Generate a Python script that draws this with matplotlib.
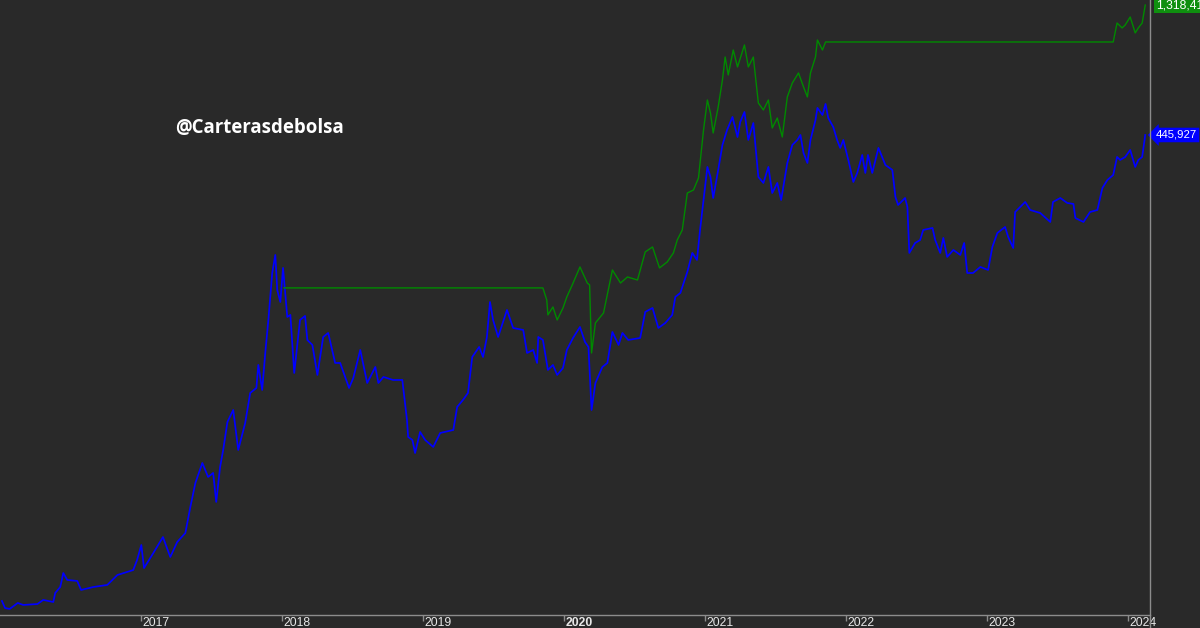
import matplotlib
matplotlib.use('Agg')
import matplotlib.pyplot as plt
import pandas as pd
from matplotlib.lines import Line2D
from matplotlib.ticker import NullLocator

plt.rcParams['font.family'] = ['Liberation Sans', 'DejaVu Sans']

# serie azul (precio)
blue_dates = [
    '2016-01-06', '2016-01-14', '2016-01-26', '2016-02-16', '2016-03-01', '2016-04-07', '2016-04-22',
    '2016-05-18', '2016-05-23', '2016-06-05', '2016-06-13', '2016-06-23', '2016-07-19', '2016-07-29',
    '2016-08-30', '2016-10-05', '2016-10-31', '2016-12-11', '2016-12-21', '2017-01-01', '2017-01-08',
    '2017-02-01', '2017-02-26', '2017-03-17', '2017-04-04', '2017-04-25', '2017-05-08', '2017-05-21',
    '2017-06-08', '2017-06-23', '2017-07-06', '2017-07-14', '2017-07-24', '2017-08-01', '2017-08-12',
    '2017-08-27', '2017-09-09', '2017-09-27', '2017-10-10', '2017-10-26', '2017-10-31', '2017-11-10',
    '2017-11-18', '2017-11-26', '2017-12-06', '2017-12-14', '2017-12-19', '2017-12-27', '2018-01-03',
    '2018-01-14', '2018-01-22', '2018-02-01', '2018-02-16', '2018-03-01', '2018-03-07', '2018-03-20',
    '2018-04-02', '2018-04-17', '2018-04-30', '2018-05-18', '2018-05-31', '2018-06-13', '2018-06-23',
    '2018-07-04', '2018-07-22', '2018-08-09', '2018-08-30', '2018-09-07', '2018-09-20', '2018-10-15',
    '2018-11-08', '2018-11-10', '2018-11-20', '2018-11-23', '2018-12-04', '2018-12-11', '2018-12-24',
    '2019-01-06', '2019-01-27', '2019-02-14', '2019-03-20', '2019-03-30', '2019-04-14', '2019-04-27',
    '2019-05-08', '2019-05-26', '2019-06-05', '2019-06-15', '2019-06-23', '2019-07-01', '2019-07-14',
    '2019-08-06', '2019-08-22', '2019-09-17', '2019-09-27', '2019-10-13', '2019-10-23', '2019-10-26',
    '2019-11-07', '2019-11-20', '2019-12-03', '2019-12-14', '2019-12-29', '2020-01-08', '2020-01-24',
    '2020-02-11', '2020-02-24', '2020-03-04', '2020-03-12', '2020-03-22', '2020-04-09', '2020-04-22',
    '2020-05-05', '2020-05-21', '2020-05-31', '2020-06-15', '2020-07-16', '2020-07-29', '2020-08-17',
    '2020-09-01', '2020-09-19', '2020-10-07', '2020-10-15', '2020-10-28', '2020-11-15', '2020-11-28',
    '2020-12-10', '2020-12-18', '2021-01-06', '2021-01-14', '2021-01-21', '2021-02-03', '2021-02-14',
    '2021-02-26', '2021-03-12', '2021-03-25', '2021-04-01', '2021-04-12', '2021-04-22', '2021-05-05',
    '2021-05-18', '2021-05-31', '2021-06-13', '2021-06-23', '2021-07-06', '2021-07-16', '2021-08-01',
    '2021-08-14', '2021-08-27', '2021-09-04', '2021-09-12', '2021-09-22', '2021-09-30', '2021-10-13',
    '2021-10-18', '2021-10-31', '2021-11-08', '2021-11-15', '2021-11-28', '2021-12-08', '2021-12-16',
    '2021-12-24', '2022-01-06', '2022-01-19', '2022-01-29', '2022-02-11', '2022-02-19', '2022-02-26',
    '2022-03-09', '2022-03-25', '2022-04-12', '2022-04-30', '2022-05-08', '2022-05-15', '2022-06-02',
    '2022-06-08', '2022-06-13', '2022-06-28', '2022-07-11', '2022-07-19', '2022-08-12', '2022-08-19',
    '2022-09-01', '2022-09-09', '2022-09-19', '2022-10-05', '2022-10-23', '2022-11-02', '2022-11-10',
    '2022-11-25', '2022-12-14', '2023-01-03', '2023-01-14', '2023-01-27', '2023-02-16', '2023-02-24',
    '2023-03-09', '2023-03-14', '2023-04-09', '2023-04-22', '2023-05-18', '2023-06-13', '2023-06-20',
    '2023-07-09', '2023-07-27', '2023-08-12', '2023-08-17', '2023-09-07', '2023-09-24', '2023-10-13',
    '2023-10-26', '2023-11-08', '2023-11-23', '2023-12-03', '2023-12-11', '2023-12-24', '2024-01-06',
    '2024-01-19', '2024-01-27', '2024-02-06', '2024-02-14',
]
blue_values = [
    9140, 8620, 8550, 8990, 8840, 8910, 9220,
    9060, 9770, 10270, 11540, 10890, 10800, 10020,
    10270, 10450, 11350, 11830, 12860, 14580, 12030,
    13630, 15580, 13190, 14950, 16110, 20030, 24460,
    28900, 25710, 26590, 20880, 27950, 32210, 40680,
    44970, 32210, 40350, 51830, 54030, 65470, 53140,
    72360, 95280, 141000, 163900, 122400, 110700, 147100,
    97700, 99400, 61240, 95280, 98550, 80640, 77350,
    60230, 82690, 85500, 66560, 66560, 59230, 54030,
    58740, 74190, 56330, 64380, 56330, 59230, 57760,
    57760, 54480, 41370, 35900, 35020, 31410, 37430,
    35020, 33030, 37120, 38060, 46120, 48890, 51830,
    69980, 76070, 69980, 82690, 110700, 95280, 82690,
    103600, 89130, 87660, 72360, 74190, 66560, 82690,
    80640, 62790, 65470, 60230, 63850, 74190, 82010,
    89880, 79300, 76070, 44970, 56330, 64380, 66560,
    86200, 77350, 85500, 80640, 82010, 101900, 105300,
    89130, 92930, 99400, 115500, 119400, 142200, 166700,
    157200, 201900, 341500, 314200, 263600, 333100, 410300,
    464900, 518200, 438500, 496900, 540200, 427800, 492800,
    314200, 298800, 341500, 274800, 298800, 259300, 353100,
    410300, 427800, 445900, 383800, 353100, 427800, 505300,
    558700, 526900, 577600, 513900, 476600, 427800, 400200,
    427800, 362000, 301300, 324900, 377400, 324900, 377400,
    324900, 400200, 347200, 333100, 265800, 248700, 263600,
    244600, 166700, 181100, 185700, 201900, 205300, 185700,
    166700, 188900, 161200, 170900, 163900, 181100, 141000,
    141000, 148300, 144600, 175200, 196900, 207000, 190400,
    173700, 234500, 255000, 238500, 232600, 215800, 255000,
    263600, 252900, 250800, 223100, 215800, 234500, 238500,
    286600, 306400, 319500, 371200, 362000, 371200, 393500,
    341500, 362000, 371200, 445927,
]

# serie verde (estrategia)
green_dates = [
    '2018-01-06', '2019-11-07', '2019-11-17', '2019-11-20', '2019-12-03', '2019-12-14', '2019-12-29',
    '2020-01-08', '2020-01-22', '2020-02-11', '2020-03-01', '2020-03-07', '2020-03-12', '2020-03-22',
    '2020-04-12', '2020-05-05', '2020-05-26', '2020-06-13', '2020-07-09', '2020-07-29', '2020-08-17',
    '2020-09-04', '2020-09-24', '2020-10-10', '2020-10-20', '2020-11-02', '2020-11-15', '2020-12-01',
    '2020-12-14', '2020-12-27', '2021-01-06', '2021-01-14', '2021-01-21', '2021-02-03', '2021-02-14',
    '2021-02-21', '2021-03-01', '2021-03-14', '2021-03-25', '2021-04-12', '2021-04-22', '2021-05-05',
    '2021-05-18', '2021-05-31', '2021-06-13', '2021-06-23', '2021-07-06', '2021-07-19', '2021-08-01',
    '2021-08-14', '2021-08-30', '2021-09-12', '2021-09-22', '2021-09-30', '2021-10-13', '2021-10-18',
    '2021-10-31', '2021-11-08', '2023-11-23', '2023-12-03', '2023-12-16', '2023-12-24', '2024-01-06',
    '2024-01-19', '2024-01-27', '2024-02-06', '2024-02-14',
]
green_values = [
    124500, 124500, 112600, 99400, 106200, 95280, 105300,
    115500, 127600, 148300, 129700, 127600, 72360, 92930,
    101000, 144600, 129700, 136400, 133000, 168100, 175200,
    147100, 154600, 166700, 185700, 201900, 274800, 281800,
    311600, 464900, 597200, 535700, 453400, 563300, 705600,
    854700, 735700, 906100, 786400, 944900, 786400, 854700,
    582400, 549300, 597200, 472700, 513800, 438500, 612400,
    688200, 748000, 665600, 612400, 748000, 854700, 985100,
    906100, 968700, 968700, 1135000, 1089000, 1116000, 1193000,
    1045000, 1089000, 1135000, 1318410,
]

years = ['2017', '2018', '2019', '2020', '2021', '2022', '2023', '2024']

BG = '#292929'
GRIS = '#8c8c8c'

fig = plt.figure(figsize=(12, 6.28), dpi=100)
fig.patch.set_facecolor(BG)
ax = fig.add_axes([0, 13 / 628, 1149.5 / 1200, 615 / 628])
ax.set_facecolor(BG)
ax.set_yscale('log')

ax.plot(pd.to_datetime(blue_dates), blue_values, color='#0000ff', lw=1.25, zorder=2)
ax.plot(pd.to_datetime(green_dates), green_values, color='#008a00', lw=1.0, zorder=3)

ax.set_xlim(pd.Timestamp('2016-01-01'), pd.Timestamp('2024-02-25'))
ax.set_ylim(8130, 1375000)

for s in ['left', 'top', 'right']:
    ax.spines[s].set_visible(False)
ax.spines['bottom'].set_color(GRIS)
ax.spines['bottom'].set_linewidth(1)

ax.yaxis.set_major_locator(NullLocator())
ax.yaxis.set_minor_locator(NullLocator())
ax.xaxis.set_minor_locator(NullLocator())
year_ts = pd.to_datetime([y + '-01-01' for y in years])
ax.set_xticks(year_ts)
ax.set_xticklabels([])
ax.tick_params(axis='x', length=4, width=1, color=GRIS, direction='out')

for y, t in zip(years, year_ts):
    ax.annotate(y, xy=(t, 0), xycoords=('data', 'axes fraction'), xytext=(1.0, -1.2),
                textcoords='offset points', ha='left', va='top', color='#e6e6e6',
                fontsize=8.8, fontweight='bold' if y == '2020' else 'normal')

# linea vertical del eje derecho
fig.add_artist(Line2D([1149.5 / 1200] * 2, [0, 1], transform=fig.transFigure, color=GRIS, lw=1))

# etiquetas de ultimo valor
ax.annotate(f'{blue_values[-1]:,.0f}', xy=(1, blue_values[-1]), xycoords=('axes fraction', 'data'),
            xytext=(4.5, 0), textcoords='offset points', ha='left', va='center', color='white',
            fontsize=8.2, bbox=dict(boxstyle='larrow,pad=0.2', fc='#0000ff', ec='none'),
            annotation_clip=False)
ax.annotate(f'{green_values[-1]:,.0f}', xy=(1, green_values[-1]), xycoords=('axes fraction', 'data'),
            xytext=(5, 0), textcoords='offset points', ha='left', va='center', color='white',
            fontsize=8.8, bbox=dict(boxstyle='square,pad=0.2', fc='#0f8f0f', ec='none'),
            annotation_clip=False)

fig.text(175 / 1200, 1 - 128 / 628, '@Carterasdebolsa', color='white', fontsize=13.4,
         fontweight='bold', family=['Open Sans', 'DejaVu Sans'], ha='left', va='center')

fig.savefig('out.png', dpi=100, facecolor=BG)
